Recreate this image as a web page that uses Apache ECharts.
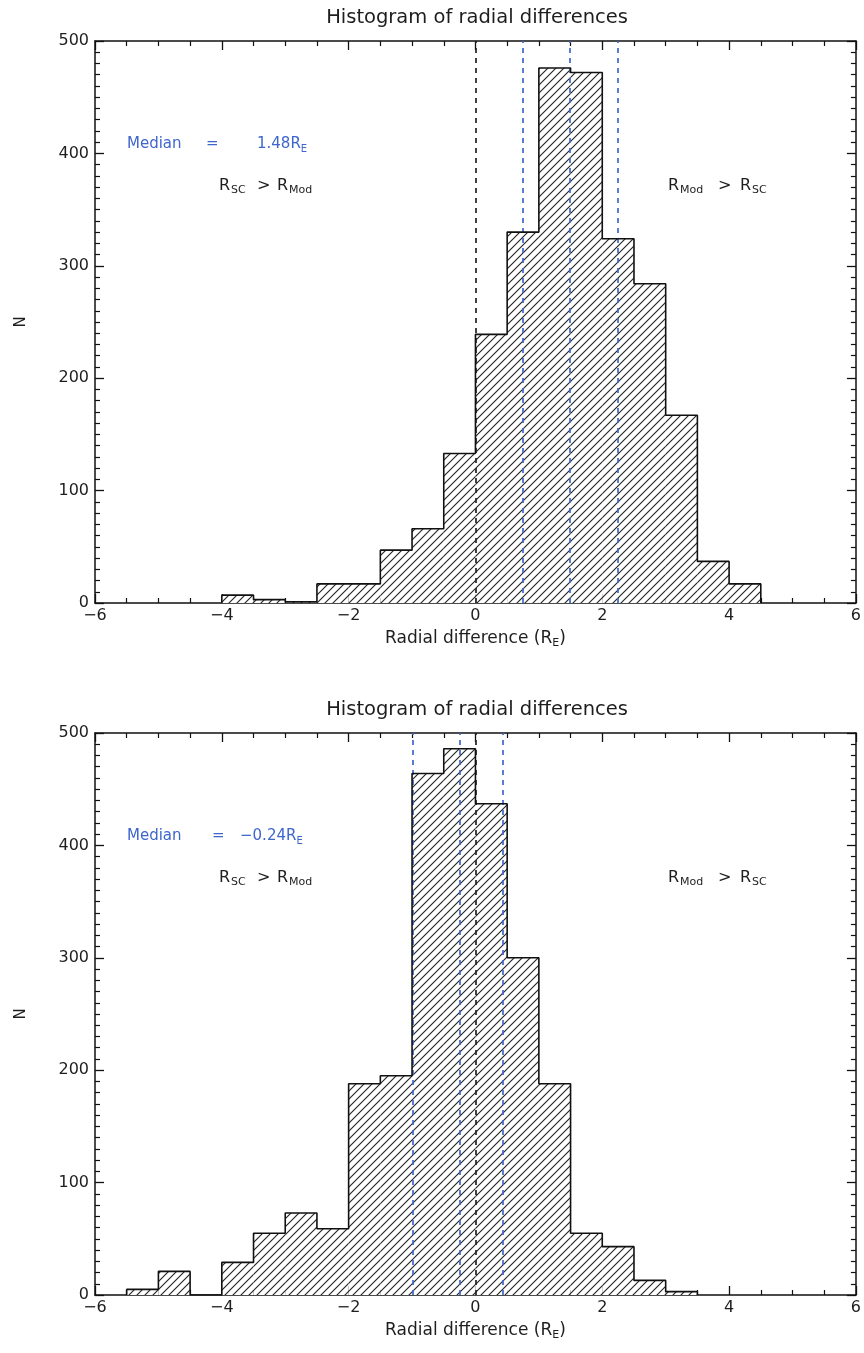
<!DOCTYPE html>
<html>
<head>
<meta charset="utf-8">
<script src="https://cdn.jsdelivr.net/npm/echarts@6/dist/echarts.min.js"></script>
<style>
html,body{margin:0;padding:0;background:#fff;}
#chart{width:864px;height:1353px;}
</style>
</head>
<body>
<div id="chart"></div>
<script>
// ---- data ----
const binWidth = 0.5;
const binStarts = [-6,-5.5,-5,-4.5,-4,-3.5,-3,-2.5,-2,-1.5,-1,-0.5,0,0.5,1,1.5,2,2.5,3,3.5,4,4.5,5,5.5];
const countsTop =    [0,0,0,0,7,3,1,17,17,47,66,133,239,330,476,472,324,284,167,37,17,0,0,0];
const countsBottom = [0,5,21,0,29,55,73,59,188,195,464,486,437,300,188,55,43,13,3,0,0,0,0,0];
const zeroLine = [0, 0];
const quartilesTop = [0.74, 2.25];
const quartilesBottom = [-0.99, 0.43];
const medians = [1.48, -0.24];
const xTicks = [-6,-4,-2,0,2,4,6];
const yTicks = [0,100,200,300,400,500];
const titleText = 'Histogram of radial differences';

// ---- style ----
const BLUE = '#3e66cc';
const FONT = 'DejaVu Sans';
const INK = '#1e1e1e';

function makeHatch() {
  const c = document.createElement('canvas');
  c.width = 8; c.height = 8;
  const ctx = c.getContext('2d');
  ctx.fillStyle = '#fff';
  ctx.fillRect(0,0,8,8);
  ctx.strokeStyle = '#262626';
  ctx.lineWidth = 1.15;
  ctx.beginPath();
  ctx.moveTo(-1, 9); ctx.lineTo(9, -1);
  ctx.moveTo(-1, 1); ctx.lineTo(1, -1);
  ctx.moveTo(7, 9); ctx.lineTo(9, 7);
  ctx.stroke();
  return c;
}
const hatch = { image: makeHatch(), repeat: 'repeat' };

function outline(vals) {
  const i0 = vals.findIndex(v => v > 0);
  const i1 = vals.length - 1 - [...vals].reverse().findIndex(v => v > 0);
  const pts = [[binStarts[i0], 0]];
  for (let i = i0; i <= i1; i++) {
    pts.push([binStarts[i], vals[i]]);
    pts.push([binStarts[i] + binWidth, vals[i]]);
  }
  pts.push([binStarts[i1] + binWidth, 0]);
  return pts;
}

const fmtMinus = v => String(v).replace('-', '\u2212');
const grids = [
  { left: 95, right: 5, top: 41, height: 562 },
  { left: 95, right: 5, top: 733, height: 562 }
];

const xAxes = [], yAxes = [], series = [];
const nameRich = {
  n: { fontSize: 17, fontFamily: FONT, color: INK, lineHeight: 20 },
  s: { fontSize: 11, fontFamily: FONT, color: INK, lineHeight: 8, verticalAlign: 'bottom' }
};

[countsTop, countsBottom].forEach((counts, g) => {
  const axisLine = { show: true, onZero: false, lineStyle: { color: '#111', width: 1.5 } };
  const tick = { show: true, inside: true, length: 9, lineStyle: { color: '#111', width: 1.3 } };
  const commonX = {
    type: 'value', gridIndex: g, min: xTicks[0], max: xTicks[xTicks.length-1], interval: 2,
    axisLine, axisTick: tick,
    minorTick: { show: true, splitNumber: 4, length: 5, lineStyle: { color: '#111', width: 1.2 } },
    splitLine: { show: false }
  };
  xAxes.push(Object.assign({}, commonX, {
    position: 'bottom',
    axisLabel: { fontSize: 16, fontFamily: FONT, color: INK, margin: 5, formatter: fmtMinus },
    name: '{n|Radial difference (R}{s|E}{n|)}', nameLocation: 'middle', nameGap: 26,
    nameTextStyle: { rich: nameRich }
  }));
  xAxes.push(Object.assign({}, commonX, { position: 'top', axisLabel: { show: false } }));
  const commonY = {
    type: 'value', gridIndex: g, min: yTicks[0], max: yTicks[yTicks.length-1], interval: 100,
    axisLine, axisTick: tick,
    minorTick: { show: true, splitNumber: 10, length: 5, lineStyle: { color: '#111', width: 1.2 } },
    splitLine: { show: false }
  };
  yAxes.push(Object.assign({}, commonY, {
    position: 'left',
    axisLabel: { fontSize: 16, fontFamily: FONT, color: INK, margin: 6 },
    name: 'N', nameLocation: 'middle', nameGap: 66,
    nameTextStyle: { fontSize: 15, fontFamily: FONT, color: INK }
  }));
  yAxes.push(Object.assign({}, commonY, { position: 'right', axisLabel: { show: false } }));

  const xi = g * 2, yi = g * 2;
  series.push({
    type: 'custom', xAxisIndex: xi, yAxisIndex: yi, z: 2,
    data: binStarts.map((s, i) => [s, counts[i]]),
    encode: { x: 0, y: 1 },
    renderItem: (params, api) => {
      const s = api.value(0), v = api.value(1);
      if (!v) return null;
      const p0 = api.coord([s, 0]);
      const p1 = api.coord([s + binWidth, v]);
      return { type: 'rect', shape: { x: p0[0], y: p1[1], width: p1[0] - p0[0], height: p0[1] - p1[1] },
               style: { fill: hatch } };
    },
    silent: true
  });
  const q = g === 0 ? quartilesTop : quartilesBottom;
  series.push({
    type: 'line', xAxisIndex: xi, yAxisIndex: yi, z: 5,
    data: outline(counts), showSymbol: false, silent: true,
    lineStyle: { color: '#111', width: 1.6 },
    markLine: {
      silent: true, symbol: ['none', 'none'], label: { show: false },
      lineStyle: { type: [5, 5], width: 1.7 },
      data: [
        { xAxis: zeroLine[g], lineStyle: { color: '#222' } },
        { xAxis: q[0], lineStyle: { color: BLUE } },
        { xAxis: medians[g], lineStyle: { color: BLUE } },
        { xAxis: q[1], lineStyle: { color: BLUE } }
      ]
    }
  });
});

// annotations (zrender styles use "fill")
function frag(color, size, extra) {
  return Object.assign({ fontSize: size, fontFamily: FONT, fill: color, lineHeight: 20 }, extra || {});
}
function sub(color, size, extra) {
  return Object.assign({ fontSize: size, fontFamily: FONT, fill: color, lineHeight: 8, verticalAlign: 'bottom' }, extra || {});
}
const graphics = [];
[0, 1].forEach(g => {
  const dy = g * 692;
  graphics.push({ type: 'text', x: 477, y: 18 + dy,
    style: { text: titleText, font: '19.5px "DejaVu Sans"', fill: INK, align: 'center', verticalAlign: 'middle' } });
  graphics.push({ type: 'text', x: 127, y: 144 + dy,
    style: { text: '{m|Median}{e|=}{n|' + fmtMinus(medians[g].toFixed(2)) + 'R}{s|E}',
             verticalAlign: 'middle',
             rich: {
               m: frag(BLUE, 15, { width: g === 0 ? 79 : 85 }),
               e: frag(BLUE, 15, { width: g === 0 ? 51 : 28 }),
               n: frag(BLUE, 15),
               s: sub(BLUE, 10)
             } } });
  graphics.push({ type: 'text', x: 219, y: 186 + dy,
    style: { text: '{a|R}{b|SC}{c|>}{d|R}{s|Mod}', verticalAlign: 'middle', rich: {
      a: frag(INK, 16, { width: 12 }),
      b: sub(INK, 11, { width: 26 }),
      c: frag(INK, 16, { width: 20 }),
      d: frag(INK, 16, { width: 12 }),
      s: sub(INK, 11)
    } } });
  graphics.push({ type: 'text', x: 668, y: 186 + dy,
    style: { text: '{a|R}{b|Mod}{c|>}{d|R}{s|SC}', verticalAlign: 'middle', rich: {
      a: frag(INK, 16, { width: 12 }),
      b: sub(INK, 11, { width: 38 }),
      c: frag(INK, 16, { width: 22 }),
      d: frag(INK, 16, { width: 12 }),
      s: sub(INK, 11)
    } } });
});

const chart = echarts.init(document.getElementById('chart'), null, { renderer: 'canvas' });
chart.setOption({
  backgroundColor: '#fff',
  animation: false,
  grid: grids,
  xAxis: xAxes,
  yAxis: yAxes,
  series,
  graphic: graphics
});
</script>
</body>
</html>
